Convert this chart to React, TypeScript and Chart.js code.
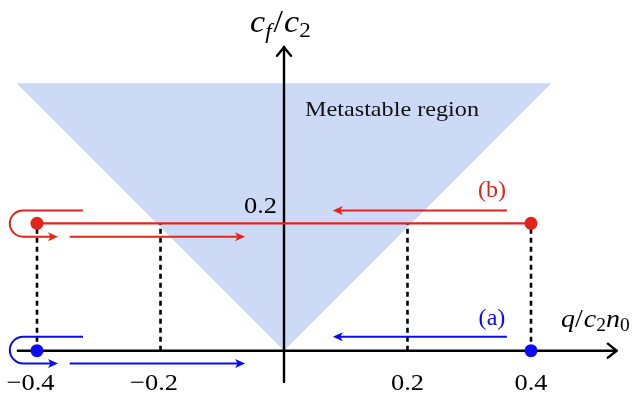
import React, { useEffect, useRef } from "react";
import { Chart, registerables } from "chart.js";

Chart.register(...registerables);

// ---- data (values in plot units: q/c2n0 horizontally, cf/c2 vertically) ----
const tickValues = [-0.4, -0.2, 0.2, 0.4];
const tickLabels = ["\u22120.4", "\u22120.2", "0.2", "0.4"];
const yTickValues = [0.2];
const yTickLabels = ["0.2"];

const regionQ = [-0.433, 0, 0.433];
const regionC = [0.42, 0, 0.42];

const endpointsQ = [-0.4, 0.4];
const cfA = 0;
const cfB = 0.2;
const dashedQ = [-0.4, -0.2, 0.2, 0.4];

// arrows: [fromQ, toQ, cf]
const arrowsB = [
  [0.361, 0.079, 0.22],
  [-0.347, -0.063, 0.179],
];
const arrowsA = [
  [0.361, 0.079, 0.022],
  [-0.347, -0.063, -0.02],
];
// loops: [startQ, topCf, bottomCf, endQ, leftmostQ]
const loopB = [-0.3255, 0.22, 0.179, -0.366, -0.444];
const loopA = [-0.3255, 0.022, -0.02, -0.366, -0.444];

const xAxisRange = [-0.431, 0.539];
const yAxisRange = [-0.049, 0.477];

const RED = "#e3241b";
const BLUE = "#0c0cf0";
const REGION = "#ccdaf5";
const SERIF = '"Liberation Serif", "DejaVu Serif", serif';

function App() {
  const ref = useRef<HTMLCanvasElement | null>(null);

  useEffect(() => {
    const canvas = ref.current;
    if (!canvas) return;

    const arrowHead = (ctx: CanvasRenderingContext2D, tx: number, ty: number, dir: number, color: string) => {
      ctx.save();
      ctx.fillStyle = color;
      ctx.beginPath();
      ctx.moveTo(tx, ty);
      ctx.lineTo(tx - dir * 10, ty - 4.5);
      ctx.lineTo(tx - dir * 7.5, ty);
      ctx.lineTo(tx - dir * 10, ty + 4.5);
      ctx.closePath();
      ctx.fill();
      ctx.restore();
    };

    const drawText = (
      ctx: CanvasRenderingContext2D,
      text: string,
      x: number,
      y: number,
      size: number,
      color: string,
      align: "left" | "center" | "right",
      stretch = 1.1,
      italic = false
    ) => {
      ctx.save();
      ctx.font = `${italic ? "italic " : ""}${size}px ${SERIF}`;
      ctx.fillStyle = color;
      ctx.textBaseline = "alphabetic";
      const w = ctx.measureText(text).width * stretch;
      let left = x;
      if (align === "center") left = x - w / 2;
      if (align === "right") left = x - w;
      ctx.translate(left, y);
      ctx.scale(stretch, 1);
      ctx.textAlign = "left";
      ctx.fillText(text, 0, 0);
      ctx.restore();
    };

    type Run = { t: string; it: boolean; s: number; dy?: number; gap?: number };
    const drawRuns = (ctx: CanvasRenderingContext2D, runs: Run[], x: number, y: number, stretch: number) => {
      ctx.save();
      ctx.fillStyle = "#000";
      ctx.textBaseline = "alphabetic";
      let cx = x;
      for (const r of runs) {
        ctx.font = `${r.it ? "italic " : ""}${r.s}px ${SERIF}`;
        const w = ctx.measureText(r.t).width * stretch;
        ctx.save();
        ctx.translate(cx, y + (r.dy || 0));
        ctx.scale(stretch, 1);
        ctx.fillText(r.t, 0, 0);
        ctx.restore();
        cx += w + (r.gap || 0);
      }
      ctx.restore();
    };

    const axesPlugin = {
      id: "axes",
      afterDatasetDraw(chart: any, args: any) {
        if (args.index !== 0) return;
        const ctx: CanvasRenderingContext2D = chart.ctx;
        const xs = chart.scales.x;
        const ys = chart.scales.y;
        const x0 = xs.getPixelForValue(0);
        const y0 = ys.getPixelForValue(0);
        ctx.save();
        ctx.strokeStyle = "#000";
        ctx.lineWidth = 2.4;
        ctx.lineCap = "round";
        ctx.lineJoin = "round";
        const xl = xs.getPixelForValue(xAxisRange[0]);
        const xr = xs.getPixelForValue(xAxisRange[1]);
        ctx.beginPath();
        ctx.moveTo(xl, y0);
        ctx.lineTo(xr, y0);
        ctx.moveTo(xr - 9, y0 - 7);
        ctx.quadraticCurveTo(xr - 3, y0 - 2, xr, y0);
        ctx.quadraticCurveTo(xr - 3, y0 + 2, xr - 9, y0 + 7);
        ctx.stroke();
        const yb = ys.getPixelForValue(yAxisRange[0]);
        const yt = ys.getPixelForValue(yAxisRange[1]);
        ctx.beginPath();
        ctx.moveTo(x0, yb);
        ctx.lineTo(x0, yt);
        ctx.moveTo(x0 - 7, yt + 9);
        ctx.quadraticCurveTo(x0 - 2, yt + 3, x0, yt);
        ctx.quadraticCurveTo(x0 + 2, yt + 3, x0 + 7, yt + 9);
        ctx.stroke();
        ctx.restore();
      },
      afterDatasetsDraw(chart: any) {
        const ctx: CanvasRenderingContext2D = chart.ctx;
        const xs = chart.scales.x;
        const ys = chart.scales.y;
        const px = (v: number) => xs.getPixelForValue(v);
        const py = (v: number) => ys.getPixelForValue(v);

        const drawArrows = (list: number[][], color: string) => {
          for (const [from, to, c] of list) {
            const fx = px(from);
            const tx = px(to);
            const y = py(c);
            const dir = tx > fx ? 1 : -1;
            ctx.save();
            ctx.strokeStyle = color;
            ctx.lineWidth = 2;
            ctx.beginPath();
            ctx.moveTo(fx, y);
            ctx.lineTo(tx - dir * 7, y);
            ctx.stroke();
            ctx.restore();
            arrowHead(ctx, tx, y, dir, color);
          }
        };
        const drawLoop = (lp: number[], color: string) => {
          const [sq, tc, bc, eq, lq] = lp;
          const topY = py(tc);
          const botY = py(bc);
          const r = (botY - topY) / 2;
          const cy = (topY + botY) / 2;
          const cx = px(lq) + r;
          const ex = px(eq);
          ctx.save();
          ctx.strokeStyle = color;
          ctx.lineWidth = 2;
          ctx.beginPath();
          ctx.moveTo(px(sq), topY);
          ctx.lineTo(cx, topY);
          ctx.arc(cx, cy, r, -Math.PI / 2, Math.PI / 2, true);
          ctx.lineTo(ex - 7, botY);
          ctx.stroke();
          ctx.restore();
          arrowHead(ctx, ex, botY, 1, color);
        };
        drawArrows(arrowsB, RED);
        drawArrows(arrowsA, BLUE);
        drawLoop(loopB, RED);
        drawLoop(loopA, BLUE);
      },
      afterDraw(chart: any) {
        const ctx: CanvasRenderingContext2D = chart.ctx;
        const xs = chart.scales.x;
        const ys = chart.scales.y;
        const x0 = xs.getPixelForValue(0);
        const y0 = ys.getPixelForValue(0);
        tickValues.forEach((v, i) => {
          const off = v < 0 ? -6.5 : 0;
          drawText(ctx, tickLabels[i], xs.getPixelForValue(v) + off, y0 + 39.5, 24, "#000", "center");
        });
        yTickValues.forEach((v, i) => {
          drawText(ctx, yTickLabels[i], x0 - 7, ys.getPixelForValue(v) - 10, 24, "#000", "right");
        });
        drawText(ctx, "Metastable region", 305, 116, 22, "#111", "left", 1.1);
        drawText(ctx, "(b)", 492, 197, 23, RED, "center", 1.05);
        drawText(ctx, "(a)", 492, 325, 23, BLUE, "center", 1.05);
        drawRuns(
          ctx,
          [
            { t: "c", it: true, s: 31 },
            { t: "f", it: true, s: 21, dy: 6, gap: 2 },
            { t: "/", it: false, s: 31, gap: 1 },
            { t: "c", it: true, s: 31 },
            { t: "2", it: false, s: 21, dy: 5 },
          ],
          250,
          32,
          1.1
        );
        drawRuns(
          ctx,
          [
            { t: "q", it: true, s: 26 },
            { t: "/", it: false, s: 26, gap: 1 },
            { t: "c", it: true, s: 26 },
            { t: "2", it: false, s: 18, dy: 4 },
            { t: "n", it: true, s: 26 },
            { t: "0", it: false, s: 18, dy: 4 },
          ],
          561,
          327,
          1.08
        );
      },
    };

    const dashedSets = dashedQ.map((q) => ({
      type: "line" as const,
      data: [
        { x: q, y: cfA },
        { x: q, y: cfB },
      ],
      borderColor: "#000",
      borderWidth: 2.6,
      borderDash: [5, 4],
      pointRadius: 0,
      fill: false,
      order: 8,
    }));

    const chart = new Chart(canvas, {
      type: "scatter",
      data: {
        datasets: [
          {
            type: "line",
            data: regionQ.map((q, i) => ({ x: q, y: regionC[i] })),
            backgroundColor: REGION,
            borderWidth: 0,
            borderColor: "rgba(0,0,0,0)",
            pointRadius: 0,
            fill: { value: regionC[0] },
            order: 10,
          } as any,
          ...dashedSets,
          {
            type: "line",
            data: endpointsQ.map((q) => ({ x: q, y: cfB })),
            borderColor: RED,
            borderWidth: 2.2,
            pointRadius: 0,
            fill: false,
            order: 5,
          },
          {
            type: "scatter",
            data: endpointsQ.map((q) => ({ x: q, y: cfB })),
            backgroundColor: RED,
            borderWidth: 0,
            pointRadius: 6.5,
            order: 1,
          },
          {
            type: "scatter",
            data: endpointsQ.map((q) => ({ x: q, y: cfA })),
            backgroundColor: BLUE,
            borderWidth: 0,
            pointRadius: 6.5,
            order: 1,
          },
        ],
      },
      options: {
        responsive: false,
        animation: false,
        layout: { padding: 0, autoPadding: false },
        plugins: { legend: { display: false }, tooltip: { enabled: false } },
        scales: {
          x: { type: "linear", min: -284 / 617.5, max: 359 / 617.5, display: false },
          y: { type: "linear", min: -43.3 / 637, max: 350.7 / 637, display: false },
        },
      },
      plugins: [axesPlugin],
    });
    return () => chart.destroy();
  }, []);

  return (
    <div style={{ position: "absolute", left: 0, top: 0, width: 643, height: 394, background: "#fff" }}>
      <canvas ref={ref} width={643} height={394} />
    </div>
  );
}

export default App;
